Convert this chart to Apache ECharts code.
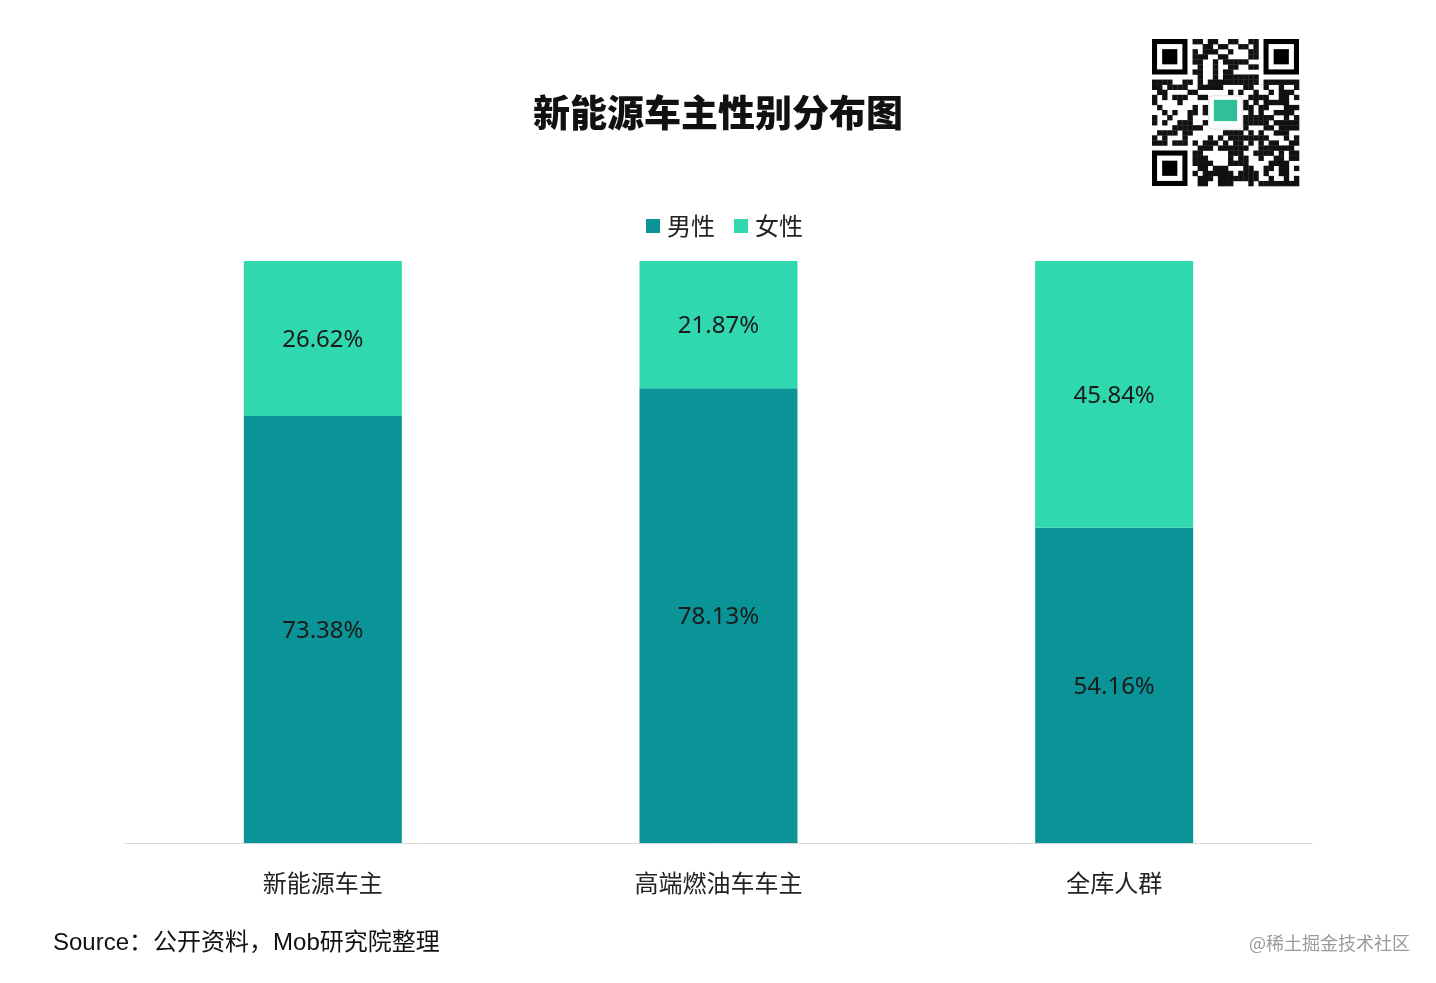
<!DOCTYPE html>
<html><head><meta charset="utf-8">
<script src="https://cdn.jsdelivr.net/npm/echarts@6/dist/echarts.min.js"></script>
<style>html,body{margin:0;padding:0;background:#fff}#c{width:1436px;height:983px}</style>
</head><body><div id="c"></div>
<script>
const categories = ['新能源车主', '高端燃油车车主', '全库人群'];
const maleValues = [73.38, 78.13, 54.16];
const femaleValues = [26.62, 21.87, 45.84];
const seriesNames = ['男性', '女性'];

const FONT = '"Noto Sans", "Noto Sans CJK SC", sans-serif';
const CJK = '"Noto Sans CJK SC", sans-serif';
const chart = echarts.init(document.getElementById('c'));

// QR-like decoration
const qr = [];
const qx = 1152, qy = 39, qs = 147, n = 29, m = qs / n;
function finder(x, y) {
  qr.push({type:'rect', shape:{x:x, y:y, width:7*m, height:7*m}, style:{fill:'#000'}});
  qr.push({type:'rect', shape:{x:x+m, y:y+m, width:5*m, height:5*m}, style:{fill:'#fff'}});
  qr.push({type:'rect', shape:{x:x+2*m, y:y+2*m, width:3*m, height:3*m}, style:{fill:'#000'}});
}
for (let i = 0; i < n; i++) for (let j = 0; j < n; j++) {
  const inF = (i < 8 && j < 8) || (i < 8 && j >= n-8) || (i >= n-8 && j < 8);
  const inLogo = i >= 11 && i <= 17 && j >= 11 && j <= 17;
  if (inF || inLogo) continue;
  const h = ((i * 73856093) ^ (j * 19349663) ^ (i*j*83492791)) >>> 0;
  if (h % 11 < 6) qr.push({type:'rect', shape:{x:qx+j*m, y:qy+i*m, width:m+0.3, height:m+0.3}, style:{fill:'#111'}});
}
finder(qx, qy); finder(qx + (n-7)*m, qy); finder(qx, qy + (n-7)*m);
qr.push({type:'rect', shape:{x:qx+11.2*m, y:qy+11.2*m, width:6.6*m, height:6.6*m, r:4}, style:{fill:'#fff', stroke:'#ddd'}});
qr.push({type:'rect', shape:{x:qx+12.2*m, y:qy+12*m, width:4.6*m, height:4.2*m}, style:{fill:'#2fbf9a'}});

chart.setOption({
  backgroundColor: '#fff',
  title: {
    text: '新能源车主性别分布图', left: 'center', top: 89,
    textStyle: {fontSize: 37, fontWeight: 900, color: '#111', fontFamily: CJK}
  },
  legend: {
    data: seriesNames, top: 209, left: 641, itemWidth: 14, itemHeight: 14, itemGap: 19,
    icon: 'rect',
    textStyle: {fontSize: 24, color: '#222', fontFamily: CJK, padding:[0,0,0,2]}
  },
  grid: {left: 125, right: 124, top: 261, bottom: 140},
  xAxis: {
    type: 'category', data: categories,
    axisLine: {lineStyle: {color: '#d9d9d9', width: 1}},
    axisTick: {show: false},
    axisLabel: {fontSize: 24, color: '#222', margin: 28, fontFamily: CJK}
  },
  yAxis: {type: 'value', min: 0, max: 100, show: false, splitLine: {show: false}},
  series: [
    {
      name: seriesNames[0], type: 'bar', stack: 'g', data: maleValues, barWidth: 158,
      itemStyle: {color: '#0a9497'},
      label: {show: true, position: 'inside', offset: [0, 2], fontSize: 24, color: '#1a1a1a', fontFamily: FONT, formatter: p => p.value.toFixed(2) + '%'}
    },
    {
      name: seriesNames[1], type: 'bar', stack: 'g', data: femaleValues, barWidth: 158,
      itemStyle: {color: '#30d8b0'},
      label: {show: true, position: 'inside', offset: [0, 2], fontSize: 24, color: '#1a1a1a', fontFamily: FONT, formatter: p => p.value.toFixed(2) + '%'}
    }
  ],
  graphic: [
    {type: 'text', left: 53, top: 931, style: {text: 'Source：公开资料，Mob研究院整理', fill: '#111', font: '24px "Liberation Sans", "Noto Sans CJK SC", sans-serif'}},
    {type: 'text', left: 1249, top: 934, style: {text: '@稀土掘金技术社区', fill: '#9a9a9a', font: '18px "Noto Sans CJK SC", sans-serif'}},
    {type: 'group', children: qr}
  ]
});
</script></body></html>
